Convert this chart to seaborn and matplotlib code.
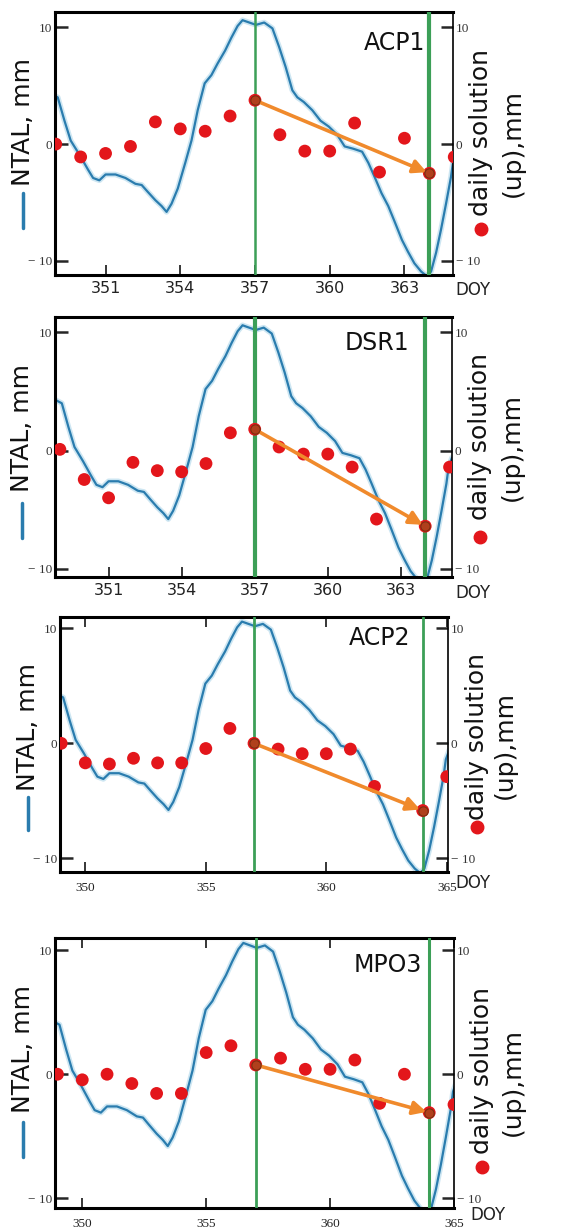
import numpy as np
import pandas as pd
import matplotlib
matplotlib.use("Agg")
import matplotlib.pyplot as plt
from matplotlib.lines import Line2D
import seaborn as sns

# ---------------- data ----------------
ntal_doy = [348.8, 349.08, 349.35, 349.6, 349.95, 350.3, 350.5, 350.75, 351.0, 351.4, 351.8,
            352.2, 352.45, 352.7, 353.0, 353.25, 353.45, 353.65, 353.9, 354.2, 354.45,
            354.7, 354.98, 355.25, 355.5, 355.8, 356.05, 356.3, 356.5, 356.77, 357.04,
            357.37, 357.7, 357.97, 358.23, 358.5, 358.7, 358.96, 359.3, 359.63, 359.96,
            360.3, 360.6, 360.95, 361.3, 361.55, 361.8, 362.08, 362.35, 362.6, 362.9,
            363.14, 363.4, 363.67, 363.9, 364.07, 364.27, 364.47, 364.67, 364.87, 364.96, 365.1]
ntal_mm = [4.3, 4.0, 2.0, 0.3, -0.9, -2.2, -2.9, -3.1, -2.6, -2.6, -2.9,
           -3.4, -3.5, -4.1, -4.8, -5.3, -5.8, -5.1, -3.8, -1.6, 0.3,
           2.9, 5.2, 5.9, 6.9, 8.0, 9.1, 10.1, 10.6, 10.4, 10.2,
           10.4, 9.9, 8.3, 6.6, 4.6, 4.0, 3.6, 2.9, 2.0, 1.5,
           0.8, -0.2, -0.4, -0.65, -1.6, -2.8, -4.2, -5.3, -6.6, -8.2,
           -9.2, -10.2, -10.9, -11.3, -10.9, -9.3, -7.3, -5.1, -2.8, -1.4, -0.6]

days = list(range(349, 366))
acp1 = [0.0, -1.1, -0.8, -0.2, 1.9, 1.3, 1.1, 2.4, 3.75, 0.8, -0.6, -0.6, 1.8, -2.4, 0.5, -2.5, -1.1]
dsr1 = [0.1, -2.45, -4.0, -1.0, -1.7, -1.8, -1.1, 1.5, 1.8, 0.3, -0.3, -0.3, -1.4, -5.8, np.nan, -6.4, -1.4]
acp2 = [0.0, -1.7, -1.8, -1.3, -1.7, -1.7, -0.45, 1.3, 0.0, -0.5, -0.9, -0.9, -0.5, -3.75, np.nan, -5.85, -2.9]
mpo3 = [0.0, -0.45, 0.0, -0.75, -1.55, -1.55, 1.75, 2.3, 0.75, 1.3, 0.4, 0.4, 1.15, -2.35, 0.0, -3.1, -2.45]

stations = ["ACP1", "DSR1", "ACP2", "MPO3"]
series = [acp1, dsr1, acp2, mpo3]
xticks_a = [351, 354, 357, 360, 363]
xticks_b = [350, 355, 360, 365]
ytick_vals = [-10, 0, 10]
ytick_labels = ["\u2212 10", "0", "10"]
arrow_from, arrow_to = 357, 364
green_days = [357, 364]

# ---------------- style / layout ----------------
sns.set_theme(style="white")
plt.rcParams["font.family"] = ["DejaVu Sans"]

W, H = 562, 1232
fig = plt.figure(figsize=(W / 100, H / 100), dpi=100)

BLUE = "#2a7cae"
RED = "#e3161b"
ORANGE = "#f08a2c"
GREEN = "#3c9f57"

layout = [
    dict(box=(55, 12, 453, 275), xlim=(348.97, 364.95), ylim=(-11.2, 11.3), xt=xticks_a, serif_x=False,
         glw=(1.8, 3.0), title=(395, 43), doy=(473, 290),
         lab=(23, 122), dash=(193, 228), dsol=(481, 133), bullet=(481, 229), up=(513, 143)),
    dict(box=(55, 317, 452, 577), xlim=(348.8, 365.1), ylim=(-10.7, 11.3), xt=xticks_a, serif_x=False,
         glw=(3.0, 3.0), title=(377, 343), doy=(473, 593),
         lab=(22, 428), dash=(503, 538), dsol=(480, 437), bullet=(480, 537), up=(512, 447)),
    dict(box=(60, 617, 448, 872), xlim=(348.95, 365.05), ylim=(-11.2, 11.0), xt=xticks_b, serif_x=True,
         glw=(2.0, 2.0), title=(380, 638), doy=(473, 883),
         lab=(28, 727), dash=(797, 830), dsol=(477, 737), bullet=(477, 827), up=(505, 745)),
    dict(box=(55, 938, 454, 1208), xlim=(348.9, 365.0), ylim=(-10.8, 11.0), xt=xticks_b, serif_x=True,
         glw=(2.0, 2.2), title=(388, 965), doy=(488, 1215),
         lab=(23, 1049), dash=(1122, 1157), dsol=(482, 1070), bullet=(482, 1167), up=(513, 1082)),
]


def fx(x):
    return x / W


def fy(y):
    return 1 - y / H


ntal_df = pd.DataFrame({"doy": ntal_doy, "ntal": ntal_mm})

for name, vals, L in zip(stations, series, layout):
    l, t, r, b = L["box"]
    ax = fig.add_axes([fx(l), fy(b), (r - l) / W, (b - t) / H])
    ax.set_facecolor("white")

    # NTAL curve (with soft halo)
    sns.lineplot(data=ntal_df, x="doy", y="ntal", ax=ax, color="#cde6f2", lw=4.0, zorder=1)
    sns.lineplot(data=ntal_df, x="doy", y="ntal", ax=ax, color=BLUE, lw=1.6, zorder=2)

    for gd, lw in zip(green_days, L["glw"]):
        ax.axvline(gd, color=GREEN, lw=lw, zorder=3)

    ax.set_xlim(*L["xlim"])
    ax.set_ylim(*L["ylim"])
    ax.set_xlabel("")
    ax.set_ylabel("")

    # x ticks
    ax.set_xticks(L["xt"])
    if L["serif_x"]:
        ax.set_xticklabels([str(v) for v in L["xt"]], fontfamily="Liberation Serif", fontsize=9.5, color="#222222")
        ax.tick_params(axis="x", top=True, bottom=True, direction="in", length=7, width=1.3, pad=7)
    else:
        ax.set_xticklabels([str(v) for v in L["xt"]], fontsize=11.5, color="#222222")
        ax.tick_params(axis="x", bottom=True, direction="in", length=7, width=1.3, pad=4)

    # left y ticks
    ax.set_yticks(ytick_vals)
    ax.set_yticklabels(ytick_labels, fontfamily="Liberation Serif", fontsize=9.5, color="#333333")
    ax.tick_params(axis="y", left=True, direction="in", length=9, width=1.8, pad=2)

    for sp in ["left", "top", "bottom"]:
        ax.spines[sp].set_color("black")
        ax.spines[sp].set_linewidth(2.2)
    ax.spines["right"].set_visible(False)

    # right axis with daily solutions
    ax2 = ax.twinx()
    ax2.set_ylim(*L["ylim"])
    d = pd.DataFrame({"doy": days, "up": vals}).dropna()
    sns.scatterplot(data=d, x="doy", y="up", ax=ax2, color=RED, s=85, edgecolor="none", zorder=4)
    i0, i1 = days.index(arrow_from), days.index(arrow_to)
    ax2.annotate("", xy=(arrow_to, vals[i1]), xytext=(arrow_from, vals[i0]),
                 arrowprops=dict(arrowstyle="-|>", color=ORANGE, lw=2.6, mutation_scale=20,
                                 shrinkA=0, shrinkB=2), zorder=5)
    sns.scatterplot(x=[arrow_from, arrow_to], y=[vals[i0], vals[i1]], ax=ax2, color="#b0401c",
                    s=45, edgecolor="#7a3010", linewidth=0.8, zorder=6)
    ax2.set_xlim(*L["xlim"])
    ax2.set_xlabel("")
    ax2.set_ylabel("")
    ax2.set_yticks(ytick_vals)
    ax2.set_yticklabels(ytick_labels, fontfamily="Liberation Serif", fontsize=9.5, color="#333333")
    ax2.tick_params(axis="y", right=True, left=False, direction="in", length=9, width=1.8, pad=2)
    for sp in ["left", "top", "bottom"]:
        ax2.spines[sp].set_visible(False)
    ax2.spines["right"].set_color("black")
    ax2.spines["right"].set_linewidth(1.2)

    # station name
    ax.text(fx(L["title"][0]), fy(L["title"][1]), name, transform=fig.transFigure,
            ha="center", va="center", fontsize=17, color="#111111")
    # DOY
    fig.text(fx(L["doy"][0]), fy(L["doy"][1]), "DOY", ha="center", va="center", fontsize=12, color="#222222")

    # left label with blue line glyph
    fig.text(fx(L["lab"][0]), fy(L["lab"][1]), "NTAL, mm", rotation=90, ha="center", va="center",
             fontsize=18, color="#111111")
    y0, y1 = L["dash"]
    fig.add_artist(Line2D([fx(L["lab"][0]), fx(L["lab"][0])], [fy(y0), fy(y1)],
                          transform=fig.transFigure, color=BLUE, lw=2.5))

    # right label with red bullet
    fig.text(fx(L["dsol"][0]), fy(L["dsol"][1]), "daily solution", rotation=90, ha="center", va="center",
             fontsize=18, color="#111111")
    fig.text(fx(L["up"][0]), fy(L["up"][1]), "(up),mm", rotation=90, ha="center", va="center",
             fontsize=18, color="#111111")
    fig.add_artist(Line2D([fx(L["bullet"][0])], [fy(L["bullet"][1])], transform=fig.transFigure,
                          marker="o", ms=9, color=RED, lw=0))

fig.savefig("out.png", dpi=100, facecolor="white")
